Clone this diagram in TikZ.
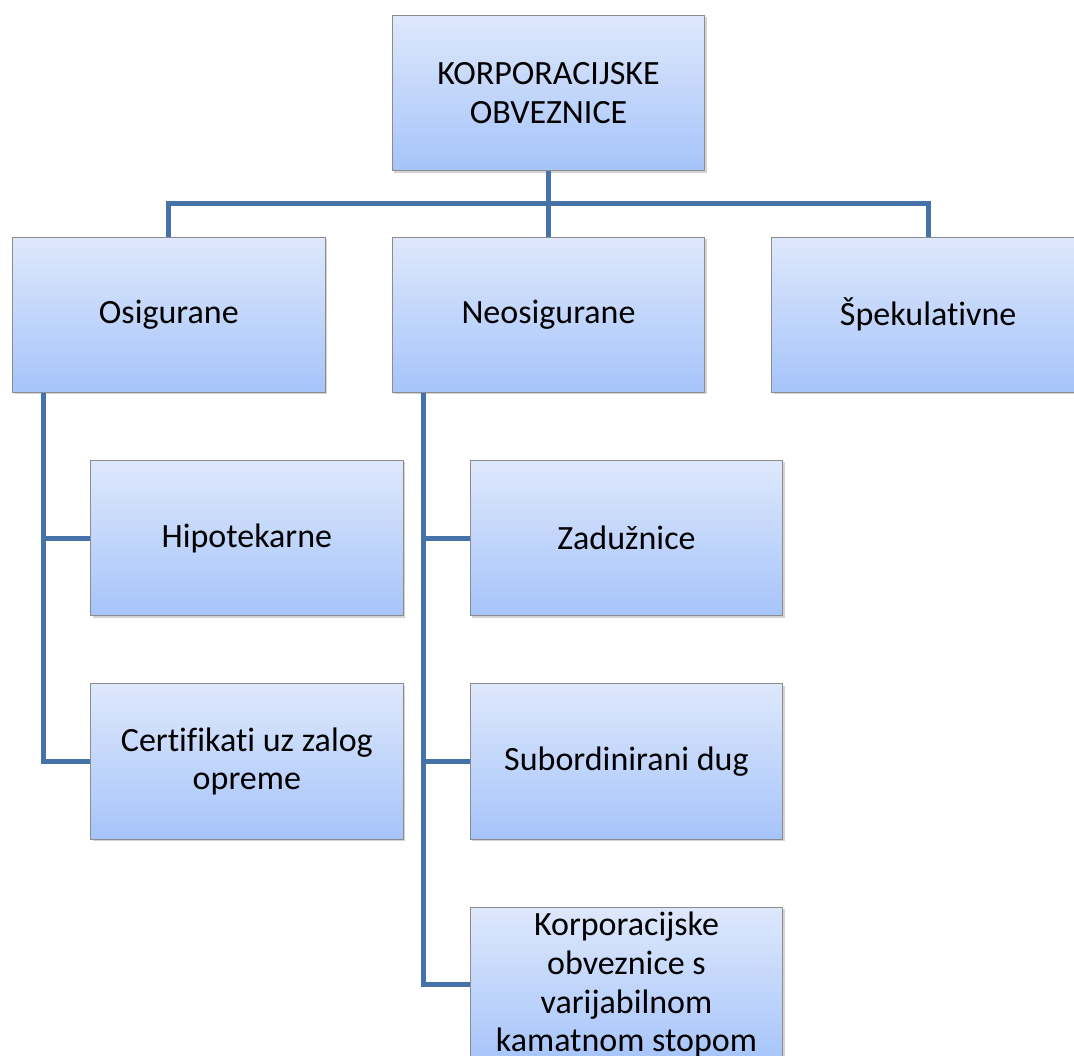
\documentclass[tikz,border=0pt]{standalone}
\usepackage{fontspec}
\setmainfont{Carlito}[RawFeature={-liga;-clig;-dlig;-calt}]
\usetikzlibrary{positioning,shadows}
\definecolor{boxtop}{RGB}{222,232,252}
\definecolor{boxbottom}{RGB}{166,196,250}
\definecolor{boxrim}{RGB}{140,140,140}
\definecolor{linkblue}{RGB}{70,114,170}

\begin{document}
\begin{tikzpicture}[
  x=0.75pt, y=-0.75pt,
  node distance=49pt and 49.5pt,
  bondbox/.style={rectangle, draw=boxrim, line width=0.75pt,
    top color=boxtop, bottom color=boxbottom,
    drop shadow={opacity=0.35, shadow xshift=1.5pt, shadow yshift=-1.5pt},
    minimum width=234.5pt, minimum height=116.5pt, inner sep=0pt,
    align=center, font=\fontsize{25.5}{29}\selectfont},
  link/.style={draw=linkblue, line width=3.75pt}
]
  \useasboundingbox (0,0) rectangle (1074,1056);

  % Top node
  \node[bondbox] (root) at (548.5,93) {KORPORACIJSKE\\OBVEZNICE};

  % First level
  \node[bondbox, below=of root] (neo) {Neosigurane};
  \node[bondbox, left=of neo] (osi) {Osigurane};
  \node[bondbox, right=of neo] (spek) {Špekulativne};

  % Secured bonds
  \node[bondbox, below=50.25pt of osi.south west, anchor=north west, xshift=58.5pt] (hipo) {Hipotekarne};
  \node[bondbox, below=50.25pt of hipo] (cert) {Certifikati uz zalog\\opreme};

  % Unsecured bonds
  \node[bondbox, below=50.25pt of neo.south west, anchor=north west, xshift=58.5pt] (zad) {Zadužnice};
  \node[bondbox, below=50.25pt of zad] (sub) {Subordinirani dug};
  \node[bondbox, below=50.25pt of sub] (korp) {Korporacijske\\obveznice s\\varijabilnom\\kamatnom stopom};

  % Connectors
  \foreach \kind in {osi, neo, spek} {
    \draw[link] (root.south) -- ++(0,32.5) -| (\kind.north);
  }
  \foreach \kid in {hipo, cert} {
    \draw[link] ([xshift=23.25pt]osi.south west) |- (\kid.west);
  }
  \foreach \kid in {zad, sub, korp} {
    \draw[link] ([xshift=24pt]neo.south west) |- (\kid.west);
  }
\end{tikzpicture}
\end{document}
